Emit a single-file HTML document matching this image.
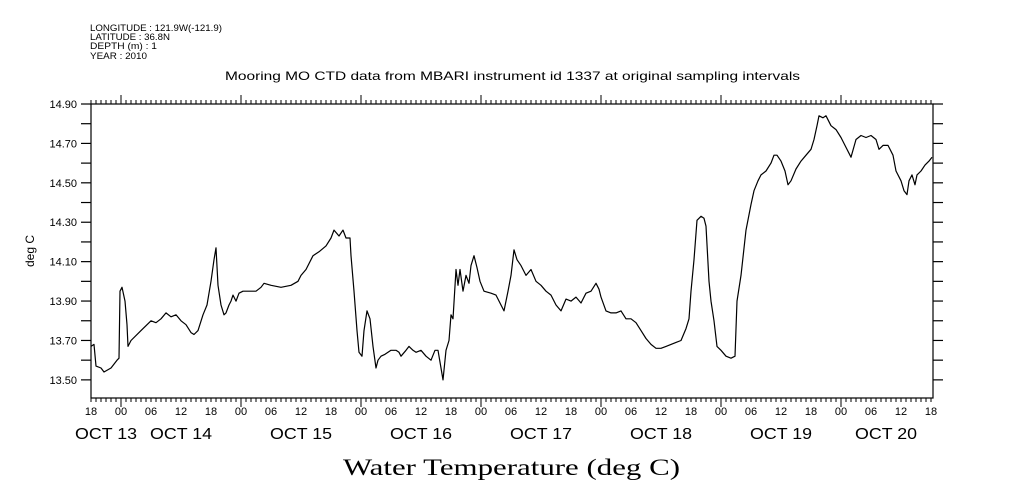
<!DOCTYPE html>
<html><head><meta charset="utf-8"><style>
html,body{margin:0;padding:0;background:#fff;width:1009px;height:504px;overflow:hidden}
svg text{font-family:"Liberation Sans",sans-serif;fill:#000}
</style></head><body>
<svg id="chart" width="1009" height="504" viewBox="0 0 1009 504" xmlns="http://www.w3.org/2000/svg">
<g font-size="9">
<text x="90" y="31" textLength="132" lengthAdjust="spacingAndGlyphs">LONGITUDE : 121.9W(-121.9)</text>
<text x="90" y="40" textLength="80" lengthAdjust="spacingAndGlyphs">LATITUDE : 36.8N</text>
<text x="90" y="49" textLength="67" lengthAdjust="spacingAndGlyphs">DEPTH (m) : 1</text>
<text x="90" y="59" textLength="57" lengthAdjust="spacingAndGlyphs">YEAR : 2010</text>
</g>
<text x="225" y="80" font-size="12" textLength="575" lengthAdjust="spacingAndGlyphs">Mooring MO CTD data from MBARI instrument id 1337 at original sampling intervals</text>
<text x="0" y="0" font-size="12" text-anchor="middle" transform="translate(34,251) rotate(-90)">deg C</text>
<text x="343" y="475" font-size="23" textLength="337" lengthAdjust="spacingAndGlyphs" style="font-family:'Liberation Serif',serif">Water Temperature (deg C)</text>
<g id="axes"></g>
<g id="plot"></g>
</svg>
<script>
const hours=[0,0.6,1,2,2.6,4,5.2,5.6,5.8,6.2,6.8,7.2,7.4,8,10,12,13,14,15,16,17,18,19,20,20.6,21.4,22.4,23.2,24,24.6,25,25.4,26,26.6,27,27.6,28,28.4,29,29.6,30.4,32,33,34,34.6,36,38,40,41.4,42,43,44.4,45.6,47,48,48.6,49.6,50.4,51,51.8,52,52.6,53.2,53.6,54.2,54.6,55.2,55.8,56.4,57,57.4,58,58.8,60,61,61.6,62,63,63.6,64.4,65,66,67,68,68.8,69.4,70,70.4,71,71.6,72,72.4,73,73.4,73.8,74.4,75,75.6,76,76.6,77.2,77.8,78.6,80,81,82,82.6,83.4,84,84.6,85.2,86,87,88,89,90,91,92,93,94,95,96,97,98,99,100,101,101.6,102,103,104,105,106,107,108,109,110,111,112,113,114,115,116,117,118,119,119.6,120,120.6,121.2,122,122.6,123,123.6,124,124.6,125.2,126,127,128,128.8,129.2,130,131,132,132.6,133.4,134,135,136,136.6,137.2,138,138.8,139.4,140,141,142,143,144,144.6,145.2,145.6,146.4,147,148,149,150,151,152,153,154,155,156,157,157.6,158.4,159.4,160.4,161,162,162.6,163.2,163.6,164.2,164.8,165.2,166,166.8,167.6,168.2];
const temps=[13.67,13.68,13.57,13.56,13.54,13.56,13.60,13.61,13.95,13.97,13.90,13.78,13.67,13.70,13.75,13.80,13.79,13.81,13.84,13.82,13.83,13.80,13.78,13.74,13.73,13.75,13.83,13.88,14.00,14.11,14.17,13.98,13.88,13.83,13.84,13.88,13.90,13.93,13.90,13.94,13.95,13.95,13.95,13.97,13.99,13.98,13.97,13.98,14.00,14.03,14.06,14.13,14.15,14.18,14.22,14.26,14.23,14.26,14.22,14.22,14.13,13.95,13.75,13.64,13.62,13.75,13.85,13.81,13.67,13.56,13.60,13.62,13.63,13.65,13.65,13.64,13.62,13.65,13.67,13.65,13.64,13.65,13.62,13.60,13.65,13.65,13.56,13.50,13.65,13.70,13.83,13.81,14.06,13.98,14.06,13.95,14.03,13.99,14.08,14.13,14.07,14.00,13.95,13.94,13.93,13.88,13.85,13.95,14.03,14.16,14.11,14.08,14.03,14.06,14.00,13.98,13.95,13.93,13.88,13.85,13.91,13.90,13.92,13.89,13.94,13.95,13.99,13.96,13.92,13.85,13.84,13.84,13.85,13.81,13.81,13.79,13.75,13.71,13.68,13.66,13.66,13.67,13.68,13.69,13.70,13.76,13.81,13.95,14.11,14.31,14.33,14.32,14.28,14.00,13.90,13.80,13.67,13.65,13.62,13.61,13.62,13.90,14.03,14.26,14.39,14.46,14.51,14.54,14.56,14.60,14.64,14.64,14.61,14.56,14.49,14.51,14.57,14.61,14.64,14.67,14.72,14.79,14.84,14.83,14.84,14.79,14.77,14.73,14.68,14.63,14.72,14.74,14.73,14.74,14.72,14.67,14.69,14.69,14.64,14.56,14.51,14.46,14.44,14.51,14.54,14.49,14.54,14.56,14.59,14.61,14.63];
const yTickLabels=["13.50","13.70","13.90","14.10","14.30","14.50","14.70","14.90"];
const hourLabels=["18","00","06","12"];
const dayLabels=["OCT 13","OCT 14","OCT 15","OCT 16","OCT 17","OCT 18","OCT 19","OCT 20"];

const X0=91,X1=933,Y0=104,Y1=398,HMAX=168.4,VMIN=13.408,VMAX=14.90;
function xs(h){return X0+(h/HMAX)*(X1-X0);}
function ys(v){return Y0+(VMAX-v)/(VMAX-VMIN)*(Y1-Y0);}
const NS="http://www.w3.org/2000/svg";
const axes=document.getElementById('axes'),plot=document.getElementById('plot');
function mk(tag,attrs,parent){const e=document.createElementNS(NS,tag);for(const k in attrs)e.setAttribute(k,attrs[k]);parent.appendChild(e);return e;}

const frame=mk('rect',{x:X0,y:Y0,width:X1-X0,height:Y1-Y0,fill:'none',stroke:'#000','stroke-width':1.2},axes);



for(let i=0;i<=14;i++){
  const v=13.5+i*0.1,y=ys(v);
  const t=mk('line',{x1:X0-10,x2:X0,y1:y,y2:y,stroke:'#000','stroke-width':1.2},axes);
  
  
  const r=mk('line',{x1:X1,x2:X1+10,y1:y,y2:y,stroke:'#000','stroke-width':1.2},axes);
  
  
}
yTickLabels.forEach(s=>{
  const tx=mk('text',{x:X0-14,y:ys(parseFloat(s))+4,'font-size':11,'text-anchor':'end'},axes);
  tx.textContent=s;
  
  
});
for(let h=0;h<=168;h++){
  const x=xs(h),major=((h+18)%24===0);
  const len=major?9:4;
  const b=mk('line',{x1:x,x2:x,y1:Y1,y2:Y1+len,stroke:'#000','stroke-width':1},axes);
  
  
  const t=mk('line',{x1:x,x2:x,y1:Y0,y2:Y0-len,stroke:'#000','stroke-width':1},axes);
  
  
  if(h%6===0){
    const tx=mk('text',{x:x,y:415,'font-size':11,'text-anchor':'middle'},axes);
    tx.textContent=hourLabels[(h/6)%4];
    
    
  }
}
dayLabels.forEach((d,i)=>{
  const s=Math.max(0,i*24-18),e=Math.min(168,i*24+6);
  const tx=mk('text',{x:xs((s+e)/2)-31,y:439,'font-size':16,textLength:62,lengthAdjust:'spacingAndGlyphs'},axes);
  tx.textContent=d;
  
  
});
let dstr='';
hours.forEach((h,i)=>{dstr+=(i?'L':'M')+xs(h).toFixed(1)+','+ys(temps[i]).toFixed(1);});
const line=mk('path',{d:dstr,fill:'none',stroke:'#000','stroke-width':1.2,'stroke-linejoin':'round'},plot);


</script>
</body></html>
